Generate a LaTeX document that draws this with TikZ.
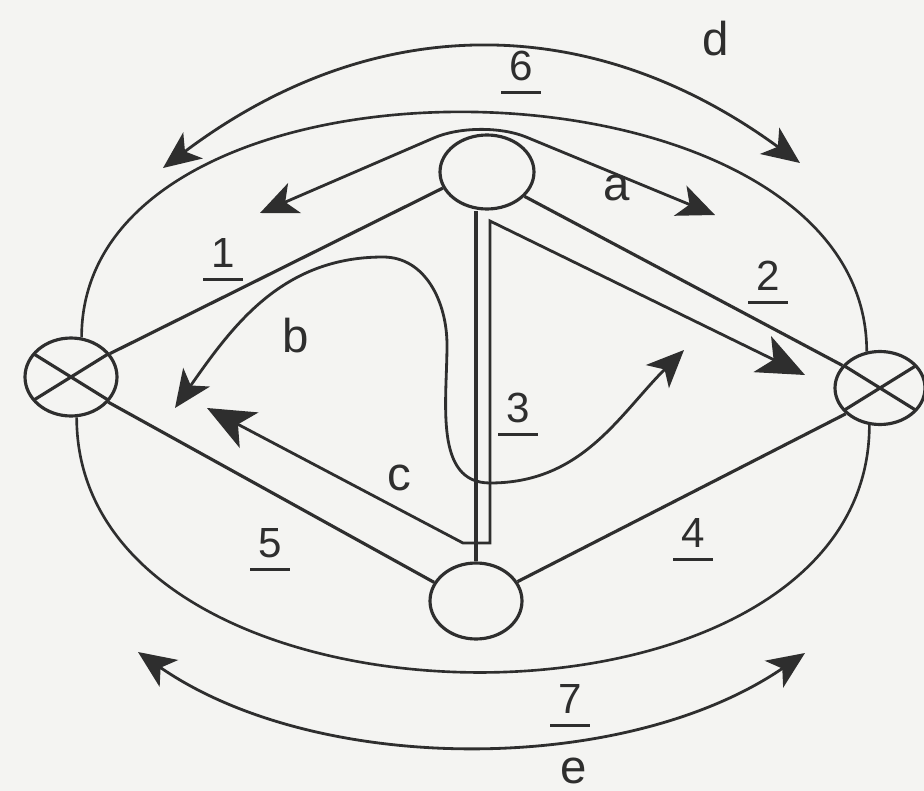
\documentclass[tikz,border=0pt]{standalone}
\usepackage{fontspec}
\setmainfont{Liberation Sans}
\usetikzlibrary{shapes.geometric,arrows.meta}
\definecolor{paper}{HTML}{F4F4F2}
\definecolor{ink}{HTML}{2E2E2E}
\newcommand{\ulnum}[1]{\begin{tabular}[t]{@{}c@{}}#1\\[-20pt]\rule{0.8cm}{1.5pt}\end{tabular}}

\begin{document}
\begin{tikzpicture}[
    x=0.02cm, y=0.02cm, line width=1.8pt, color=ink,
    hub/.style={ellipse, draw, inner sep=0pt, minimum width=1.88cm, minimum height=1.48cm},
    xhub/.style={hub, minimum width=1.84cm, minimum height=1.56cm,
                 path picture={
                   \draw ([shift={(-1cm,0.62cm)}]path picture bounding box.center) -- ([shift={(1cm,-0.62cm)}]path picture bounding box.center);
                   \draw ([shift={(-1cm,-0.62cm)}]path picture bounding box.center) -- ([shift={(1cm,0.62cm)}]path picture bounding box.center);}},
    route/.style={{Stealth[length=7.5mm, width=6.5mm, inset=2mm]}-{Stealth[length=7.5mm, width=6.5mm, inset=2mm]}, line width=1.6pt},
    bigroute/.style={{Stealth[length=9.5mm, width=8mm, inset=2.5mm]}-{Stealth[length=9.5mm, width=8mm, inset=2.5mm]}, line width=1.6pt},
    num/.style={font=\fontsize{24}{28}\selectfont, inner sep=0pt, anchor=base},
    lett/.style={font=\fontsize{27}{30}\selectfont, inner sep=0pt, anchor=base}
]
\useasboundingbox (0,0) rectangle (924,-791);
\fill[paper] (0,0) rectangle (924,-791);

% --- nodes ---
\node[hub] (top) at (487,-172) {};
\node[hub, minimum width=1.84cm, minimum height=1.52cm] (bot) at (476,-601) {};
\node[xhub] (lft) at (71,-377) {};
\node[xhub, minimum width=1.8cm, minimum height=1.46cm] (rgt) at (880,-388) {};

% --- links 1 to 7 ---
\draw (lft.31) -- (top.200);
\draw (top.-33) -- (rgt.149);
\draw (bot.north) -- (bot.north |- top.south);
\draw (bot.25) -- (rgt.217);
\draw (lft.-34) -- (bot.156);
\draw[line width=1.5pt] (lft.75) .. controls +(0,310) and +(0,310) .. (rgt.110);
\draw[line width=1.5pt] (lft.278) .. controls +(0,-335) and +(0,-335) .. (rgt.254);

\node[num] (n1) at (223,-267) {\ulnum{1}};
\node[num] (n2) at (768,-290) {\ulnum{2}};
\node[num] (n3) at (518,-422) {\ulnum{3}};
\node[num] (n4) at (693,-547) {\ulnum{4}};
\node[num] (n5) at (270,-557) {\ulnum{5}};
\node[num] (n6) at (521,-80) {\ulnum{6}};
\node[num] (n7) at (570,-713) {\ulnum{7}};

% --- routes a to e ---
\coordinate (aL) at (260,-213);
\coordinate (aR) at (715,-215);
\coordinate (bL) at (175,-408);
\coordinate (bR) at (684,-350);
\coordinate (cL) at (207,-408);
\coordinate (cR) at (805,-375);
\coordinate (dL) at (163,-168);
\coordinate (dR) at (800,-163);
\coordinate (eL) at (138,-652);
\coordinate (eR) at (805,-653);

\draw[route] (aL) [rounded corners=1cm] -- (480,-118) -- (aR);
\draw[route] (bL) to[out=55,in=180] (383,-257) to[out=0,in=90] (447,-345)
             to[out=-90,in=180] (490,-483) to[out=0,in=225] (bR);
\draw[bigroute] (cL) -- (463,-543) -- (490,-543) -- (490,-221) [rounded corners=0.2cm] -- (cR);
\draw[route] (dL) .. controls (373,-10) and (591,-10) .. (dR);
\draw[route] (eL) .. controls (317,-776) and (625,-776) .. (eR);

\node[lett] (la) at (617,-200) {a};
\node[lett] (lb) at (296,-352) {b};
\node[lett] (lc) at (399,-490) {c};
\node[lett] (ld) at (716,-55) {d};
\node[lett] (le) at (574,-783) {e};

\end{tikzpicture}
\end{document}
